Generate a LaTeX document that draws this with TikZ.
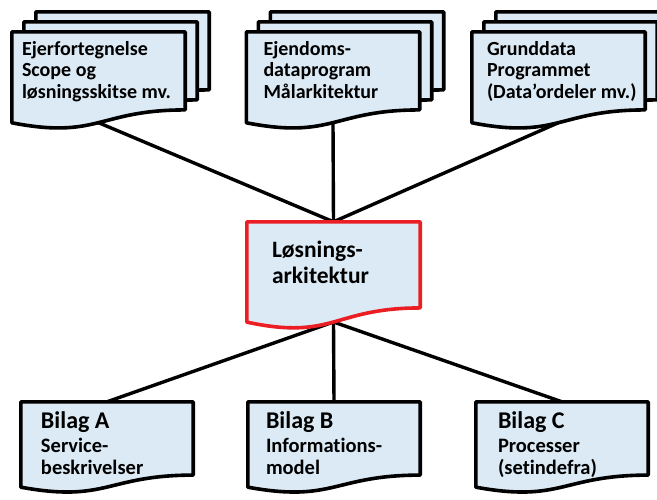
\documentclass[tikz,border=0pt]{standalone}
\usepackage{fontspec}
\setmainfont{Carlito}[Ligatures=CommonOff]
\usetikzlibrary{positioning, calc, backgrounds}
\definecolor{docfill}{RGB}{219,234,244}
\definecolor{docred}{RGB}{235,30,36}
\tikzset{
  docbox/.style={minimum width=173pt, minimum height=97pt, inner sep=0pt},
  lowbox/.style={docbox, minimum width=172pt, minimum height=91pt},
  midbox/.style={docbox, minimum height=107pt},
  docline/.style={line width=3.6pt, line join=round, fill=docfill},
  lnk/.style={line width=3.4pt},
  doctxt/.style={inner sep=0pt, align=left, font=\bfseries\fontsize{20}{21.5}\selectfont},
  subtxt/.style={doctxt, font=\bfseries\fontsize{20.5}{22}\selectfont},
}
% wavy document outline round a (blank) node
\newcommand{\docpath}[1]{(#1.north west) -- (#1.north east)
  -- ($(#1.north east)!0.802!(#1.south east)$)
  .. controls ($(#1.north)!0.802!(#1.south)$) and ($(#1.north)!1.107!(#1.south)$)
  .. ($(#1.north west)!0.934!(#1.south west)$) coordinate[pos=0.5] (#1-bot) -- cycle}

\begin{document}
\begin{tikzpicture}[x=1pt, y=-1pt]
\useasboundingbox (0,0) rectangle (657,499);

% -- top row (stacks of three) -----------------------------
\node[docbox] (ejer) at (98.5, 80.5) {};
\node[docbox] (ejd) at (333, 80.5) {};
\node[docbox] (grund) at (558.5, 80.5) {};
\foreach \d in {ejer, ejd, grund} {
  \node[docbox] (\d-b2) at ([shift={(24,-20)}]\d) {};
  \node[docbox] (\d-b1) at ([shift={(12,-10)}]\d) {};
  \draw[docline] \docpath{\d-b2};
  \draw[docline] \docpath{\d-b1};
  \draw[docline] \docpath{\d};
}

% -- middle -----------------------------------------------
\node[midbox] (losn) at (333.5, 275.5) {};
\draw[docline, draw=docred] \docpath{losn};

% -- bottom row ---------------------------------------------
\node[lowbox] (bila) at (107, 447.5) {};
\node[lowbox] (bilb) at (334, 447.5) {};
\node[lowbox] (bilc) at (562, 447.5) {};
\foreach \d in {bila, bilb, bilc} {
  \draw[docline] \docpath{\d};
}

% -- texts --------------------------------------------------
\node[doctxt, below right=9pt and 10pt of ejer.north west] (ejer-txt)
  {Ejerfortegnelse\\Scope og\\løsningsskitse mv.};
\node[doctxt, below right=9pt and 17pt of ejd.north west] (ejd-txt)
  {Ejendoms-\\dataprogram\\Målarkitektur};
\node[doctxt, below right=9pt and 15pt of grund.north west] (grund-txt)
  {Grunddata\\Programmet\\(Data'ordeler mv.)};
\node[doctxt, font=\bfseries\fontsize{23.5}{26}\selectfont,
  below right=19pt and 25pt of losn.north west] (losn-txt)
  {Løsnings-\\arkitektur};
\node[subtxt, below right=10pt and 20pt of bila.north west] (bila-txt)
  {{\fontsize{24}{26}\selectfont Bilag A}\\[2pt]Service-\\beskrivelser};
\node[subtxt, below right=10pt and 18pt of bilb.north west] (bilb-txt)
  {{\fontsize{24}{26}\selectfont Bilag B}\\[2pt]Informations-\\model};
\node[subtxt, below right=10pt and 22pt of bilc.north west] (bilc-txt)
  {{\fontsize{24}{26}\selectfont Bilag C}\\[2pt]Processer\\(setindefra)};

% -- connectors ---------------------------------------------
\begin{scope}[on background layer]
\foreach \d in {ejer, ejd, grund} {
  \draw[lnk] (\d-bot) -- (losn.north);
}
\foreach \d in {bila, bilb, bilc} {
  \draw[lnk] (losn-bot) -- (\d.north);
}
\end{scope}

\end{tikzpicture}
\end{document}
